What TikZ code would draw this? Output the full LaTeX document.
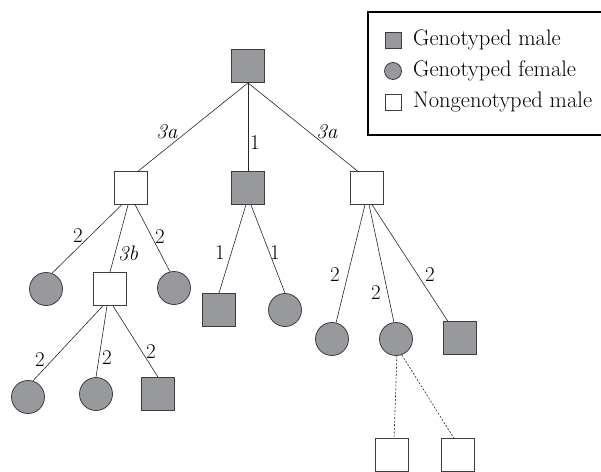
\documentclass[tikz,border=0pt]{standalone}
\usepackage{tikz}

\definecolor{geno}{RGB}{152,153,157}
\definecolor{rim}{RGB}{60,60,60}

\tikzset{
  gmale/.style={draw=rim, fill=geno, shape=rectangle, inner sep=0,
    minimum size=33pt, line width=0.8pt},
  gfemale/.style={draw=rim, fill=geno, shape=circle, inner sep=0,
    minimum size=33pt, line width=0.8pt},
  nmale/.style={draw=rim, fill=white, shape=rectangle, inner sep=0,
    minimum size=33pt, line width=0.8pt},
  lab/.style={inner sep=0, font=\fontsize{21}{25}\selectfont},
  keytext/.style={inner sep=0, anchor=west, font=\fontsize{22.5}{27}\selectfont},
  link/.style={line width=0.6pt, draw=black!85},
  guess/.style={line width=0.6pt, draw=black!85, dash pattern=on 2pt off 1.6pt}
}

\begin{document}
\begin{tikzpicture}[x=1pt, y=-1pt]

    \useasboundingbox (0, 0) rectangle (601, 471);
    \clip (0, 0) rectangle (601, 471);

    % Key (runs off the right edge)
    \coordinate (kNE) at (640, 12);
    \coordinate (kNW) at (368, 12);
    \coordinate (kSW) at (368, 135);
    \coordinate (kSE) at (640, 135);
    \draw[line width=2pt] (kNE) -- (kNW) -- (kSW) -- (kSE);
    \node[gmale, minimum size=16pt] (k1) at (393, 40) {};
    \node[gfemale, minimum size=17pt] (k2) at (393, 71) {};
    \node[nmale, minimum size=16pt] (k3) at (393, 102) {};
    \node[keytext] (t1) at (413, 40) {Genotyped male};
    \node[keytext] (t2) at (413, 71) {Genotyped female};
    \node[keytext] (t3) at (413, 102) {Nongenotyped male};

    % Founder
    \node[gmale] (T) at (248, 66) {};

    % Offspring
    \node[nmale] (L) at (131, 188) {};
    \node[gmale] (M) at (248, 188) {};
    \node[nmale] (R) at (367, 188) {};

    % Grand-offspring
    \node[gfemale] (L1) at (46, 289) {};
    \node[nmale] (L2) at (110, 289) {};
    \node[gfemale] (L3) at (174, 288) {};
    \node[gmale] (M1) at (219, 310) {};
    \node[gfemale] (M2) at (285, 310) {};
    \node[gfemale] (R1) at (332, 339) {};
    \node[gfemale] (R2) at (396, 339) {};
    \node[gmale] (R3) at (460, 338) {};

    % Last generation
    \node[gfemale] (B1) at (28, 397) {};
    \node[gfemale] (B2) at (96, 394) {};
    \node[gmale] (B3) at (158, 394) {};
    \node[nmale] (D1) at (392, 455) {};
    \node[nmale] (D2) at (458, 455) {};

    % Descent
    \draw[link] (T.south) -- (L.67);
    \draw[link] (T.south) -- (M.north);
    \draw[link] (T.south) -- (R.119);

    \draw[link] (L.241) -- (L1.69);
    \draw[link] (L.-100) -- (L2.north);
    \draw[link] (L.-76) -- (L3.104);

    \draw[link] (M.-97) -- (M1.north);
    \draw[link] (M.-80) -- (M2.north);

    \draw[link] (R.-97) -- (R1.76);
    \draw[link] (R.-83) -- (R2.97);
    \draw[link] (R.-73) -- (R3.126);

    \draw[link] (L2.-113) -- (B1.73);
    \draw[link] (L2.-100) -- (B2.north);
    \draw[link] (L2.-80) -- (B3.north);

    \draw[guess] (R2.-87) -- (D1.83);
    \draw[guess] (R2.-70) -- (D2.104);

    % Relationship codes
    \node[lab] (c1) at (167, 132) {\textit{3a}};
    \node[lab] (c2) at (255, 143) {1};
    \node[lab] (c3) at (327, 132) {\textit{3a}};
    \node[lab] (c4) at (78, 236) {2};
    \node[lab] (c5) at (128, 253) {\textit{3b}};
    \node[lab] (c6) at (160, 237) {2};
    \node[lab] (c7) at (220, 253) {1};
    \node[lab] (c8) at (275, 253) {1};
    \node[lab] (c9) at (335, 275) {2};
    \node[lab] (c10) at (376, 293) {2};
    \node[lab] (c11) at (430, 275) {2};
    \node[lab] (c12) at (40, 360) {2};
    \node[lab] (c13) at (107, 358) {2};
    \node[lab] (c14) at (151, 352) {2};

\end{tikzpicture}
\end{document}
